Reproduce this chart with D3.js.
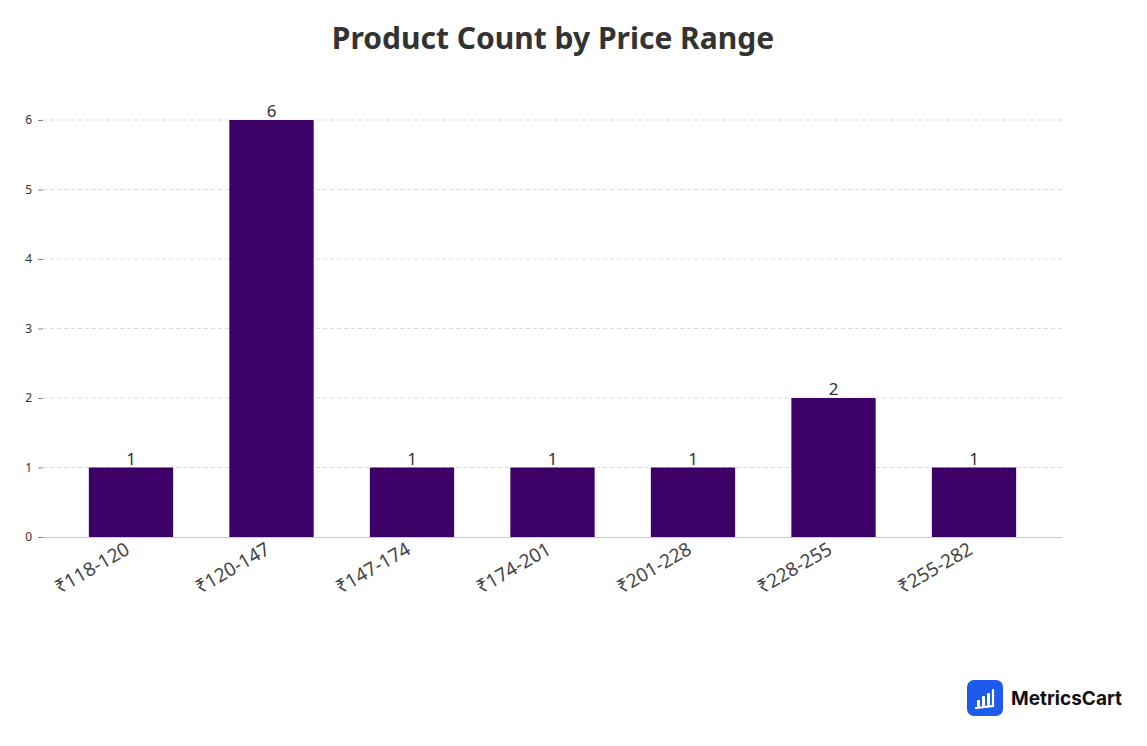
<!DOCTYPE html>
<html><head><meta charset="utf-8">
<script src="https://cdn.jsdelivr.net/npm/d3@7"></script>
<style>body{margin:0;background:#fff;font-family:"Noto Sans",sans-serif;}</style>
</head><body>
<svg id="c" width="1147" height="746"></svg>
<script>
const categories = ["₹118-120","₹120-147","₹147-174","₹174-201","₹201-228","₹228-255","₹255-282"];
const counts = [1,6,1,1,1,2,1];
const yTicks = [0,1,2,3,4,5,6];

const svg = d3.select("#c");
const x = d3.scaleBand().domain(categories).range([60.75,1044.25]).paddingInner(0.4).paddingOuter(0.2);
const y = d3.scaleLinear().domain([0,6]).range([537,120]);

svg.append("text").attr("x",553).attr("y",49).attr("text-anchor","middle")
  .attr("font-size",30).attr("font-weight",700).attr("fill","#333").text("Product Count by Price Range");

svg.append("g").selectAll("line").data(yTicks.filter(d=>d>0)).join("line")
  .attr("x1",43).attr("x2",1062).attr("y1",d=>y(d)).attr("y2",d=>y(d))
  .attr("stroke","#ddd").attr("stroke-dasharray","4,3");

const ya = svg.append("g").attr("transform","translate(43,0)")
  .call(d3.axisLeft(y).tickValues(yTicks).tickFormat(d3.format("d")).tickSize(5).tickPadding(6));
ya.select(".domain").remove();
ya.selectAll("line").attr("stroke","#888");
ya.selectAll("text").attr("font-size",12).attr("fill","#333").attr("font-family","Noto Sans");

svg.append("line").attr("x1",43).attr("x2",1062).attr("y1",537.5).attr("y2",537.5).attr("stroke","#ccc");

svg.append("g").selectAll("rect").data(counts).join("rect")
  .attr("x",(d,i)=>x(categories[i])).attr("width",x.bandwidth())
  .attr("y",d=>y(d)).attr("height",d=>537-y(d)).attr("fill","#3c0066");

svg.append("g").selectAll("text").data(counts).join("text")
  .attr("x",(d,i)=>x(categories[i])+x.bandwidth()/2).attr("y",d=>y(d)-3)
  .attr("text-anchor","middle").attr("font-size",17).attr("fill","#333").text(d=>d);

svg.append("g").selectAll("text").data(categories).join("text")
  .attr("text-anchor","end").attr("font-size",19).attr("fill","#444")
  .attr("transform",d=>`translate(${x(d)+x.bandwidth()/2},${553}) rotate(-30)`)
  .text(d=>d);

// logo
const lg = svg.append("g").attr("transform","translate(967,680)");
lg.append("rect").attr("width",36).attr("height",36).attr("rx",7).attr("fill","#1f5bea");
[[10,20,3,7],[15,16,3,11],[20,13,3,14]].forEach(([a,b,w,h])=>lg.append("rect").attr("x",a).attr("y",b).attr("width",w).attr("height",h).attr("rx",1).attr("fill","#fff"));
lg.append("path").attr("d","M26 10 L26 26 L9 28").attr("stroke","#fff").attr("stroke-width",2.2).attr("fill","none").attr("stroke-linecap","round");
lg.append("text").attr("x",44).attr("y",25).attr("font-size",19).attr("font-weight",700).attr("fill","#111").attr("font-family","Inter").text("MetricsCart");
</script>
</body></html>
